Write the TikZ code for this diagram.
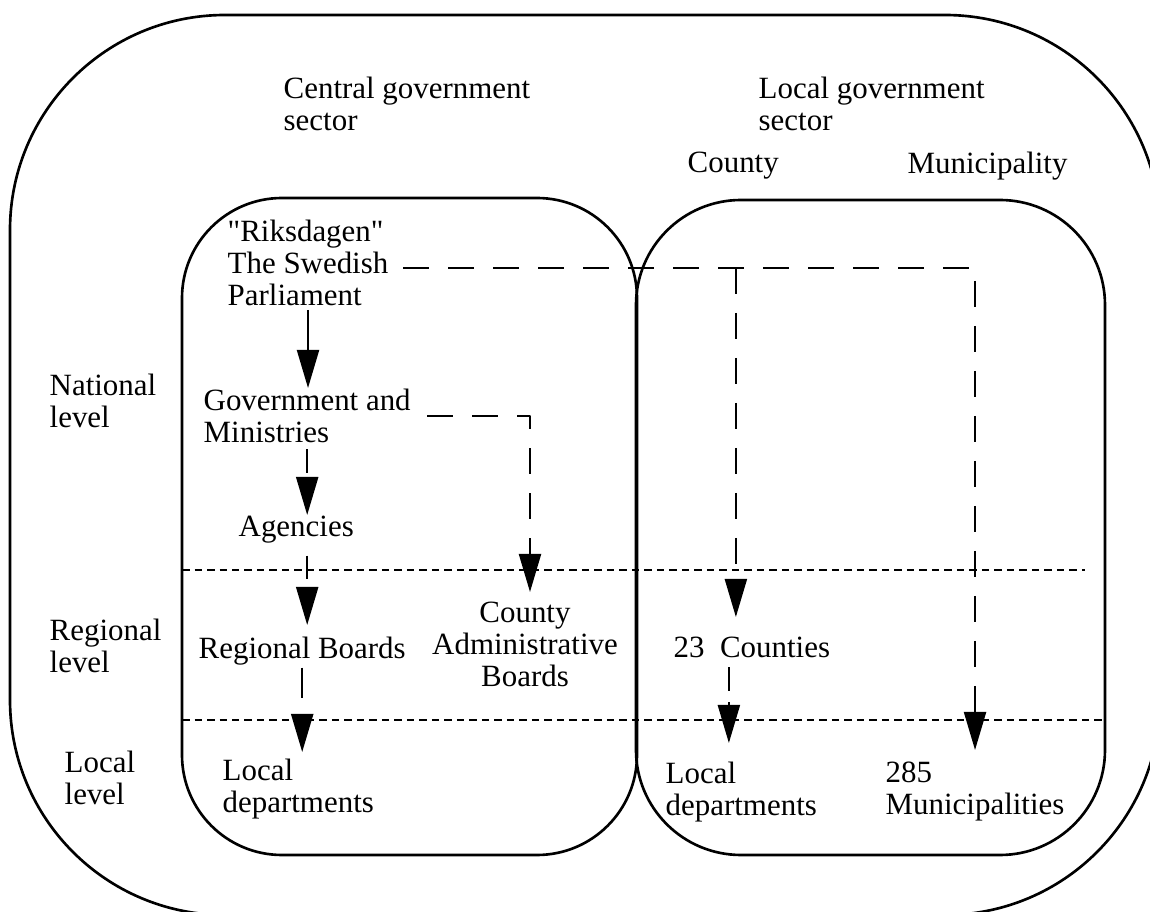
\documentclass[tikz,border=0pt]{standalone}
\usepackage{fontspec}
\setmainfont{Liberation Serif}
\usetikzlibrary{arrows.meta}
\begin{document}
\begin{tikzpicture}[x=.1mm, y=-.1mm, line join=round,
	>={Triangle[length=3.8mm, width=2.2mm]},
	txt/.style={inner sep=0pt, anchor=north west, align=left, font=\fontsize{8.8}{9.2}\selectfont},
	frame/.style={line width=.75pt},
	lvl/.style={line width=.6pt, dash pattern=on .75mm off .5mm},
	ldash/.style={line width=.6pt, dash pattern=on 2.6mm off 1.9mm},
	link/.style={line width=.6pt}]
	%% Frame
	\def\xmin{0}
	\def\xmax{1150}
	\def\ymin{0}
	\def\ymax{912}
	\useasboundingbox (\xmin,\ymin) rectangle (\xmax,\ymax);
	\clip (\xmin,\ymin) rectangle (\xmax,\ymax);
	%% Sectors
	\draw [frame, rounded corners=21.5mm] (10,15) rectangle (1160,915);
	\draw [frame, rounded corners=10mm] (182,198) rectangle (637,855);
	\draw [frame, rounded corners=10.5mm] (636,200) rectangle (1105,855);
	%% Levels
	\draw [lvl] (182,570) -- (1085,570);
	\draw [lvl] (182,720) -- (1102,720);
	%% Headings
	\node [txt] (ctitle) at (283,76) {Central government\\sector};
	\node [txt] (ltitle) at (758,76) {Local government\\sector};
	\node [txt] (county) at (687,151) {County};
	\node [txt] (mun) at (907,151) {Municipality};
	\node [txt] (national) at (49,373) {National\\level};
	\node [txt] (regional) at (49,618) {Regional\\level};
	\node [txt] (locallvl) at (64,750) {Local\\level};
	%% Bodies
	\node [txt] (parl) at (227,219) {\textquotedbl Riksdagen\textquotedbl\\The Swedish\\Parliament};
	\node [txt] (gov) at (203,388) {Government and\\Ministries};
	\node [txt] (agen) at (238,515) {Agencies};
	\node [txt] (regb) at (198,636) {Regional Boards};
	\node [txt, anchor=north, align=center] (cab) at (525,601) {County\\Administrative\\Boards};
	\node [txt] (locdep) at (222,758) {Local\\departments};
	\node [txt] (counties) at (673,636) {23~~Counties};
	\node [txt] (cdep) at (665,761) {Local\\departments};
	\node [txt] (munis) at (885,761) {285\\Municipalities};
	%% Central chain
	\draw [link, ->, shorten <=.3mm] (parl) -- (parl |- gov.north);
	\draw [link, ->, dash pattern=on 2.4mm off 1.5mm, shorten <=.6mm] (gov.south) -- (gov.south |- agen.north);
	\draw [link, ->, dash pattern=on 2.3mm off 1.2mm, shorten <=1.2mm, shorten >=1.1mm] (agen.south -| gov.south) -- (regb.north -| gov.south);
	\draw [link, ->, dash pattern=on 3mm off 2mm, shorten <=.2mm, shorten >=.6mm] (regb) -- (regb |- locdep.north);
	\draw [ldash, ->, shorten <=1.6mm, shorten >=.9mm] (gov.east) -| ([xshift=.5mm]cab.north);
	%% Local chain
	\coordinate (fork) at ([yshift=-.5mm]parl.east);
	\coordinate (cbend) at ([xshift=-1.6mm]counties.north |- fork);
	\draw [ldash, ->, shorten <=1.4mm, shorten >=1.1mm] (fork) -| (munis.north);
	\draw [ldash, ->, shorten >=1.9mm] (cbend) -- ([xshift=-1.6mm]counties.north);
	\draw [link, ->, dash pattern=on 2.4mm off 1.1mm, shorten <=.9mm, shorten >=1.8mm] ([xshift=-2.3mm]counties.south) -- ([xshift=-2.3mm]counties.south |- cdep.north);
\end{tikzpicture}
\end{document}
